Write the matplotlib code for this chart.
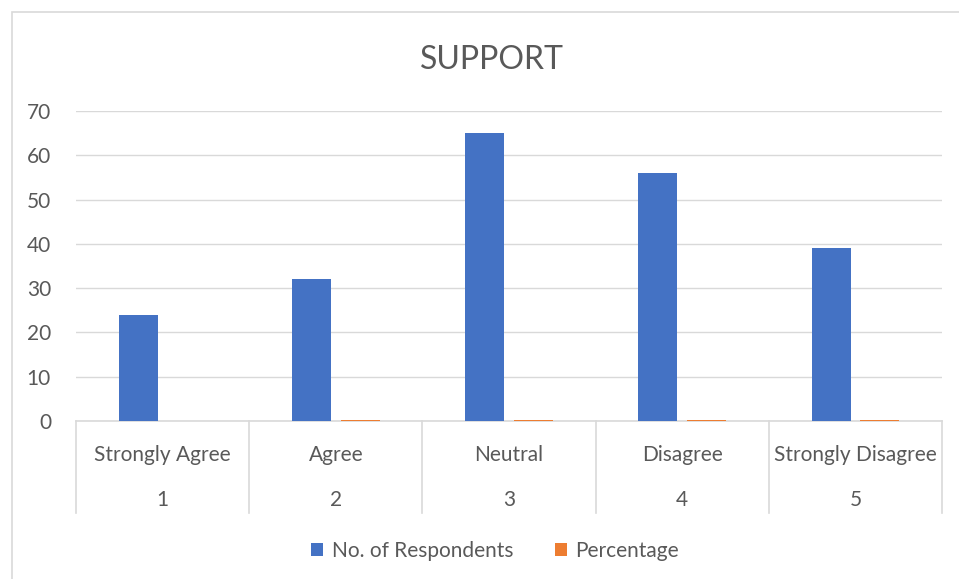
import matplotlib.pyplot as plt
from matplotlib.patches import Rectangle
import numpy as np

# 数据
categories = ["Strongly Agree", "Agree", "Neutral", "Disagree", "Strongly Disagree"]
codes = ["1", "2", "3", "4", "5"]
respondents = [24, 32, 65, 56, 39]
percentage = [0.11, 0.15, 0.30, 0.26, 0.18]

blue = "#4472C4"
orange = "#ED7D31"
text_col = "#595959"
grid_col = "#D9D9D9"

plt.rcParams['font.family'] = ['Lato', 'DejaVu Sans']

fig = plt.figure(figsize=(9.59, 5.79), dpi=100)
# 图表外框
fig.patches.append(Rectangle((12 / 959, -0.1), 1.2, 1 - 12 / 579 + 0.1,
                             transform=fig.transFigure, fill=False,
                             edgecolor=grid_col, linewidth=1.2))

ax = fig.add_axes([76 / 959, 1 - 421 / 579, (942 - 76) / 959, (421 - 111) / 579])

x = np.arange(len(categories))
w = 0.225
ax.bar(x - 0.14, respondents, w, color=blue, label="No. of Respondents", zorder=3)
ax.bar(x + 0.14, percentage, w, color=orange, label="Percentage", zorder=3)

ax.set_xlim(-0.5, len(categories) - 0.5)
ax.set_ylim(0, 70)
ax.set_yticks(range(0, 71, 10))
ax.yaxis.grid(True, color=grid_col, linewidth=1)
ax.set_axisbelow(True)
for s in ["top", "right", "left"]:
    ax.spines[s].set_visible(False)
ax.spines["bottom"].set_color(grid_col)
ax.spines["bottom"].set_linewidth(1.2)
ax.spines["bottom"].set_zorder(2)
ax.tick_params(axis='y', length=0, labelsize=15, labelcolor=text_col, pad=18)
ax.set_xticks([])

# 多级分类坐标轴
trans = ax.get_xaxis_transform()
for b in np.arange(-0.5, len(categories), 1.0):
    ax.plot([b, b], [0, -92 / 310], transform=trans, color=grid_col,
            linewidth=1.2, clip_on=False)
for i in x:
    ax.text(i, -34 / 310, categories[i], transform=trans, ha='center', va='center',
            fontsize=15, color=text_col)
    ax.text(i, -79 / 310, codes[i], transform=trans, ha='center', va='center',
            fontsize=15, color=text_col)

fig.text(492 / 959, 1 - 60 / 579, "SUPPORT", ha='center', va='center',
         fontsize=23, color=text_col)

fig.legend(loc='center', bbox_to_anchor=(495 / 959, 1 - 551 / 579), ncol=2,
           frameon=False, fontsize=15, labelcolor=text_col, handlelength=0.6,
           handleheight=0.6, columnspacing=2.0, handletextpad=0.4)

plt.savefig("out.png", dpi=100)
